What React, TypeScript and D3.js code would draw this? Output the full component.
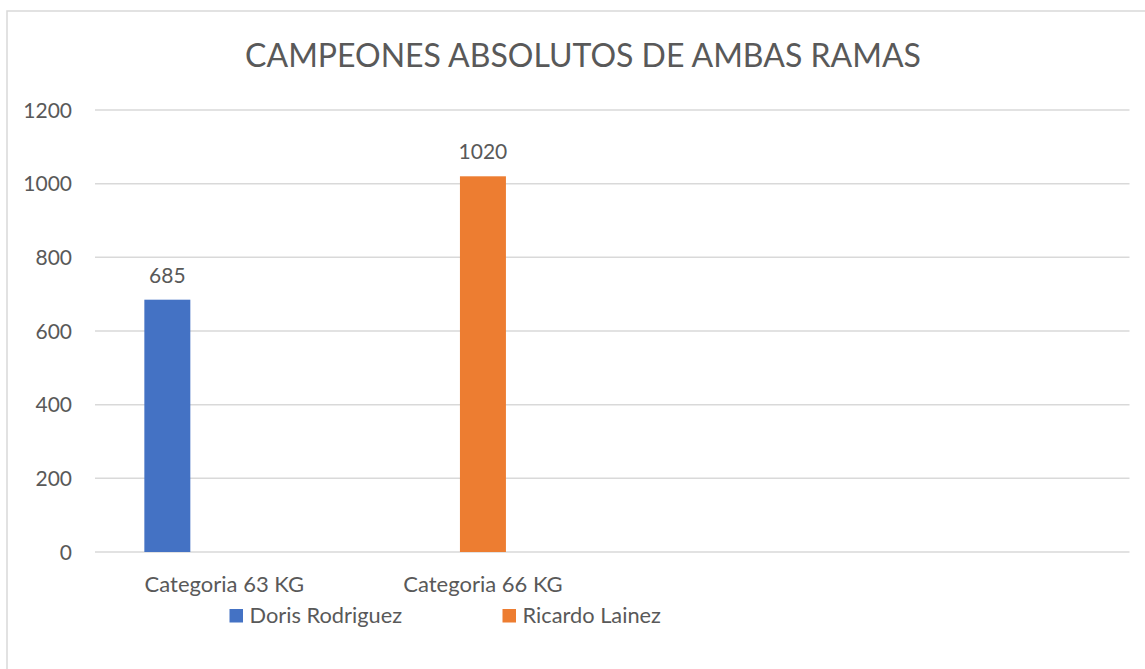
import { useEffect, useRef } from 'react';
import * as d3 from 'd3';

// Datos del gráfico
const categories = ['Categoria 63 KG', 'Categoria 66 KG', '', ''];
const seriesNames = ['Doris Rodriguez', 'Ricardo Lainez'];
const dorisValues: (number | null)[] = [685, null, null, null];
const ricardoValues: (number | null)[] = [null, 1020, null, null];
const yTicks = [0, 200, 400, 600, 800, 1000, 1200];

const COLORS = {
  blue: '#4472C4',
  orange: '#ED7D31',
  text: '#595959',
  grid: '#D9D9D9'
};

const FONT = 'Lato, "Open Sans", sans-serif';

export default function App() {
  const svgRef = useRef<SVGSVGElement>(null);

  useEffect(() => {
    if (!svgRef.current) return;
    const W = 1145;
    const H = 669;
    const plot = { left: 95, right: 1129.5, top: 110, bottom: 552 };

    const svg = d3.select(svgRef.current);
    svg.selectAll('*').remove();

    // chart area border
    svg.append('rect')
      .attr('x', 7)
      .attr('y', 11)
      .attr('width', 1153)
      .attr('height', 680)
      .attr('fill', '#fff')
      .attr('stroke', COLORS.grid)
      .attr('stroke-width', 1.5);

    const x = d3.scaleBand<number>()
      .domain(d3.range(categories.length))
      .range([plot.left, plot.right]);

    const xInner = d3.scaleBand<string>()
      .domain(seriesNames)
      .range([0, x.bandwidth()])
      .paddingInner(0.193)
      .paddingOuter(1.366)
      .align(0.317);

    const y = d3.scaleLinear()
      .domain([0, 1200])
      .range([plot.bottom, plot.top]);

    // title
    svg.append('text')
      .attr('x', 583)
      .attr('y', 66.5)
      .attr('text-anchor', 'middle')
      .attr('font-family', FONT)
      .attr('font-size', '32px')
      .attr('fill', COLORS.text)
      .text('CAMPEONES ABSOLUTOS DE AMBAS RAMAS');

    // gridlines
    svg.append('g')
      .selectAll('line')
      .data(yTicks)
      .enter()
      .append('line')
      .attr('x1', plot.left)
      .attr('x2', plot.right)
      .attr('y1', d => y(d))
      .attr('y2', d => y(d))
      .attr('stroke', COLORS.grid)
      .attr('stroke-width', 1.5);

    // y tick labels
    svg.append('g')
      .selectAll('text')
      .data(yTicks)
      .enter()
      .append('text')
      .attr('x', 72)
      .attr('y', d => y(d) + 7.5)
      .attr('text-anchor', 'end')
      .attr('font-family', FONT)
      .attr('font-size', '21px')
      .attr('fill', COLORS.text)
      .text(d => d);

    // bars
    const series = [
      { name: seriesNames[0], values: dorisValues, color: COLORS.blue },
      { name: seriesNames[1], values: ricardoValues, color: COLORS.orange }
    ];

    series.forEach(s => {
      const pts = s.values
        .map((v, i) => ({ i, v }))
        .filter(d => d.v != null) as { i: number; v: number }[];

      svg.append('g')
        .selectAll('rect')
        .data(pts)
        .enter()
        .append('rect')
        .attr('x', d => x(d.i)! + xInner(s.name)!)
        .attr('y', d => y(d.v))
        .attr('width', xInner.bandwidth())
        .attr('height', d => y(0) - y(d.v))
        .attr('fill', s.color);

      svg.append('g')
        .selectAll('text')
        .data(pts)
        .enter()
        .append('text')
        .attr('x', d => x(d.i)! + xInner(s.name)! + xInner.bandwidth() / 2)
        .attr('y', d => y(d.v) - 17)
        .attr('text-anchor', 'middle')
        .attr('font-family', FONT)
        .attr('font-size', '21px')
        .attr('fill', COLORS.text)
        .text(d => d.v);
    });

    // category labels
    svg.append('g')
      .selectAll('text')
      .data(categories)
      .enter()
      .append('text')
      .attr('x', (d, i) => x(i)! + x.bandwidth() / 2)
      .attr('y', 591.5)
      .attr('text-anchor', 'middle')
      .attr('font-family', FONT)
      .attr('font-size', '22px')
      .attr('fill', COLORS.text)
      .text(d => d);

    // legend
    const legend = svg.append('g')
      .attr('transform', 'translate(229.5, 609)');

    series.forEach((s, i) => {
      const item = legend.append('g')
        .attr('transform', `translate(${i * 273}, 0)`);
      item.append('rect')
        .attr('width', 13.5)
        .attr('height', 13.5)
        .attr('fill', s.color);
      item.append('text')
        .attr('x', 20)
        .attr('y', 13.8)
        .attr('font-family', FONT)
        .attr('font-size', '21.8px')
        .attr('fill', COLORS.text)
        .text(s.name);
    });

    svg.attr('width', W).attr('height', H);
  }, []);

  return (
    <svg
      ref={svgRef}
      width={1145}
      height={669}
      style={{ position: 'absolute', left: 0, top: 0, background: '#fff' }}
    />
  );
}
